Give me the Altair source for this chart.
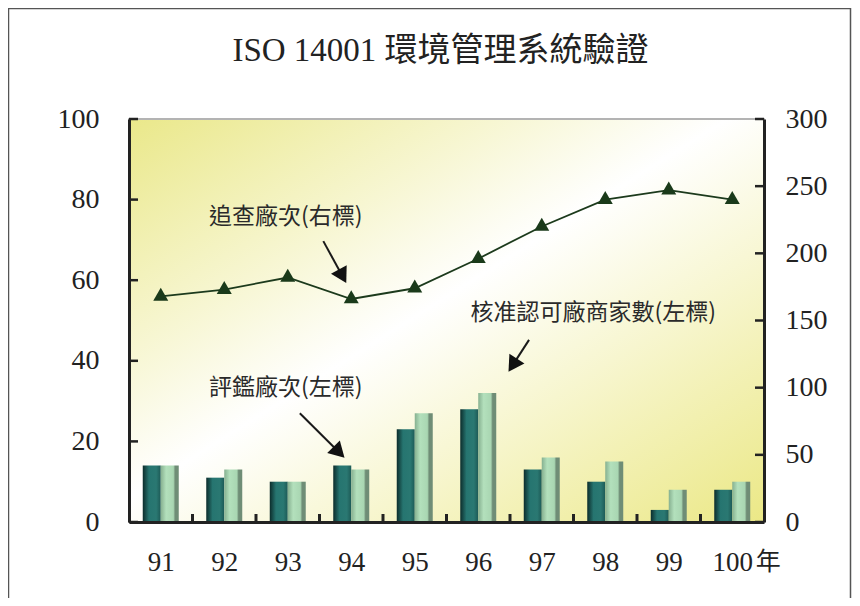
import math
import altair as alt
import pandas as pd

# ---------------- data ----------------
years = [91, 92, 93, 94, 95, 96, 97, 98, 99, 100]
audits = [14, 11, 10, 14, 23, 28, 13, 10, 3, 8]            # 評鑑廠次 (左標)
approved = [14, 13, 10, 13, 27, 32, 16, 15, 8, 10]         # 核准認可廠商家數 (左標)
followups = [168, 173, 182, 166, 174, 196, 220, 240, 247, 240]  # 追查廠次 (右標)

left_ticks = [0, 20, 40, 60, 80, 100]
right_ticks = [0, 50, 100, 150, 200, 250, 300]
year_unit = "年"

title_text = "ISO 14001 環境管理系統驗證"
note_text = ["追查廠次(右標)", "評鑑廠次(左標)", "核准認可廠商家數(左標)"]
note_x = [92.97, 92.97, 97.81]
note_y = [75.7, 33.3, 51.9]
arrow_from_x = [93.56, 93.19, 96.80]
arrow_from_y = [69.7, 27.0, 45.2]
arrow_to_x = [93.98, 93.98, 96.41]
arrow_to_y = [57.6, 14.6, 35.7]

# ---------------- layout ----------------
W, H = 635, 403
X_DOMAIN = [years[0] - 0.5, years[-1] + 0.5]
PX_X = W / (X_DOMAIN[1] - X_DOMAIN[0])
PX_Y = H / 100.0
HEAD_SIZE = 320
HEAD_BACK = 2 * (math.sqrt(HEAD_SIZE) / 2) * math.sqrt(3) / 2  # tip distance from centre
XLAB_PAD = 27

SERIF = "Liberation Serif, Noto Sans CJK TC"
CJK = "Noto Sans CJK TC"

bars = pd.DataFrame({"year": years, "audits": audits, "approved": approved})
line_df = pd.DataFrame({"year": years, "followups": followups})

rows = []
for i in range(len(note_text)):
    dxp = (arrow_to_x[i] - arrow_from_x[i]) * PX_X
    dyp = -(arrow_to_y[i] - arrow_from_y[i]) * PX_Y
    L = math.hypot(dxp, dyp)
    ux, uy = dxp / L, dyp / L
    ang = math.degrees(math.atan2(dxp, -dyp)) % 360
    cx = arrow_to_x[i] - ux * HEAD_BACK / PX_X
    cy = arrow_to_y[i] + uy * HEAD_BACK / PX_Y
    rows.append({"text": note_text[i], "tx": note_x[i], "ty": note_y[i],
                 "x1": arrow_from_x[i], "y1": arrow_from_y[i],
                 "hx": cx, "hy": cy, "ang": ang})
notes = pd.DataFrame(rows)

bounds = pd.DataFrame({"b": [(years[i] + years[i + 1]) / 2 for i in range(len(years) - 1)]})
lt = pd.DataFrame({"v": left_ticks})
rt = pd.DataFrame({"v": right_ticks})
unit_df = pd.DataFrame({"year": [years[-1]], "u": [year_unit]})
title_df = pd.DataFrame({"t": [title_text]})

xscale = alt.Scale(domain=X_DOMAIN, nice=False, zero=False, padding=0)
yl = alt.Scale(domain=[0, 100], nice=False, padding=0)
yr = alt.Scale(domain=[0, 300], nice=False, padding=0)

bg_grad = alt.Gradient(
    gradient="linear", x1=0, y1=0, x2=1, y2=1,
    stops=[alt.GradientStop(offset=0, color="#eae88a"),
           alt.GradientStop(offset=0.47, color="#ffffff"),
           alt.GradientStop(offset=1, color="#ebe886")])
dark_grad = alt.Gradient(
    gradient="linear", x1=0, y1=0, x2=1, y2=0,
    stops=[alt.GradientStop(offset=0, color="#0c2c2b"),
           alt.GradientStop(offset=0.35, color="#267570"),
           alt.GradientStop(offset=0.75, color="#2a7872"),
           alt.GradientStop(offset=1, color="#1d5a56")])
light_grad = alt.Gradient(
    gradient="linear", x1=0, y1=0, x2=1, y2=0,
    stops=[alt.GradientStop(offset=0, color="#86b090"),
           alt.GradientStop(offset=0.3, color="#b3e0bc"),
           alt.GradientStop(offset=0.7, color="#a9d6b2"),
           alt.GradientStop(offset=0.8, color="#6f8d76"),
           alt.GradientStop(offset=1, color="#6f8d76")])

one = alt.Data(values=[{"k": 1}])

background = alt.Chart(one).mark_rect(fill=bg_grad).encode(
    x=alt.value(0), x2=alt.value(W), y=alt.value(1), y2=alt.value(H))

frame = alt.Chart(one).mark_rect(fillOpacity=0, stroke="#555555", strokeWidth=1.5).encode(
    x=alt.value(-120.5), x2=alt.value(W + 86.5), y=alt.value(-110.5), y2=alt.value(H + 200))

title = alt.Chart(title_df).mark_text(font=SERIF, fontSize=33, color="#222222",
                                      align="center", baseline="middle").encode(
    x=alt.value(W / 2 - 6), y=alt.value(-68), text="t:N")

x_axis = alt.Axis(values=years, title=None, labelPadding=XLAB_PAD, labelBaseline="top",
                  labelFontSize=27, orient="bottom", zindex=2)

dark = alt.Chart(bars).mark_bar(width=18, xOffset=-9, fill=dark_grad).encode(
    x=alt.X("year:Q", scale=xscale, axis=x_axis),
    y=alt.Y("audits:Q", scale=yl,
            axis=alt.Axis(values=left_ticks, title=None, orient="left", labelPadding=30, zindex=2)))
light = alt.Chart(bars).mark_bar(width=18, xOffset=9, fill=light_grad).encode(
    x=alt.X("year:Q", scale=xscale, axis=None),
    y=alt.Y("approved:Q", scale=yl, axis=None))

unit = alt.Chart(unit_df).mark_text(font=CJK, fontSize=25, color="#222222", align="center",
                                    baseline="top", dx=36).encode(
    x=alt.X("year:Q", scale=xscale, axis=None), y=alt.value(H + XLAB_PAD + 1), text="u:N")

lticks = alt.Chart(lt).mark_rule(color="#222222", strokeWidth=2.5).encode(
    y=alt.Y("v:Q", scale=yl, axis=None), x=alt.value(0), x2=alt.value(9))
bticks = alt.Chart(bounds).mark_rule(color="#222222", strokeWidth=3).encode(
    x=alt.X("b:Q", scale=xscale, axis=None), y=alt.value(H - 8), y2=alt.value(H))

shafts = alt.Chart(notes).mark_rule(color="#1a1a1a", strokeWidth=2).encode(
    x=alt.X("x1:Q", scale=xscale, axis=None), y=alt.Y("y1:Q", scale=yl, axis=None),
    x2="hx:Q", y2="hy:Q")
heads = alt.Chart(notes).mark_point(shape="triangle-up", filled=True, size=HEAD_SIZE,
                                     color="#111111", opacity=1).encode(
    x=alt.X("hx:Q", scale=xscale, axis=None), y=alt.Y("hy:Q", scale=yl, axis=None),
    angle=alt.Angle("ang:Q", scale=None))
texts = alt.Chart(notes).mark_text(font=CJK, fontSize=23, color="#2a2a2a",
                                   align="center", baseline="middle").encode(
    x=alt.X("tx:Q", scale=xscale, axis=None), y=alt.Y("ty:Q", scale=yl, axis=None),
    text="text:N")

line = alt.Chart(line_df).mark_line(color="#1c3a1c", strokeWidth=1.8).encode(
    x=alt.X("year:Q", scale=xscale, axis=None),
    y=alt.Y("followups:Q", scale=yr,
            axis=alt.Axis(values=right_ticks, title=None, orient="right", labelPadding=21, zindex=2)))
pts = alt.Chart(line_df).mark_point(shape="triangle", filled=True, size=225,
                                    color="#1a3a1a", opacity=1).encode(
    x=alt.X("year:Q", scale=xscale, axis=None),
    y=alt.Y("followups:Q", scale=yr, axis=None))
rticks = alt.Chart(rt).mark_rule(color="#222222", strokeWidth=2.5).encode(
    y=alt.Y("v:Q", scale=yr, axis=None), x=alt.value(W - 9), x2=alt.value(W))

chart = alt.layer(
    background, frame, title, dark, light, unit, lticks, bticks, shafts, heads, texts,
    line, pts, rticks
).resolve_scale(x="independent", y="independent").properties(
    width=W, height=H,
    autosize=alt.AutoSizeParams(type="none"),
    padding={"left": 121, "top": 111, "right": 88, "bottom": 76},
    background="white",
).configure_view(stroke="#9a9a9a", strokeWidth=1.5).configure_axis(
    labelFont="Liberation Serif", labelFontSize=28, labelColor="#222222",
    domainColor="#222222", domainWidth=3, ticks=False, grid=False)

chart.save("out.html", embed_options={"renderer": "svg", "actions": False})
